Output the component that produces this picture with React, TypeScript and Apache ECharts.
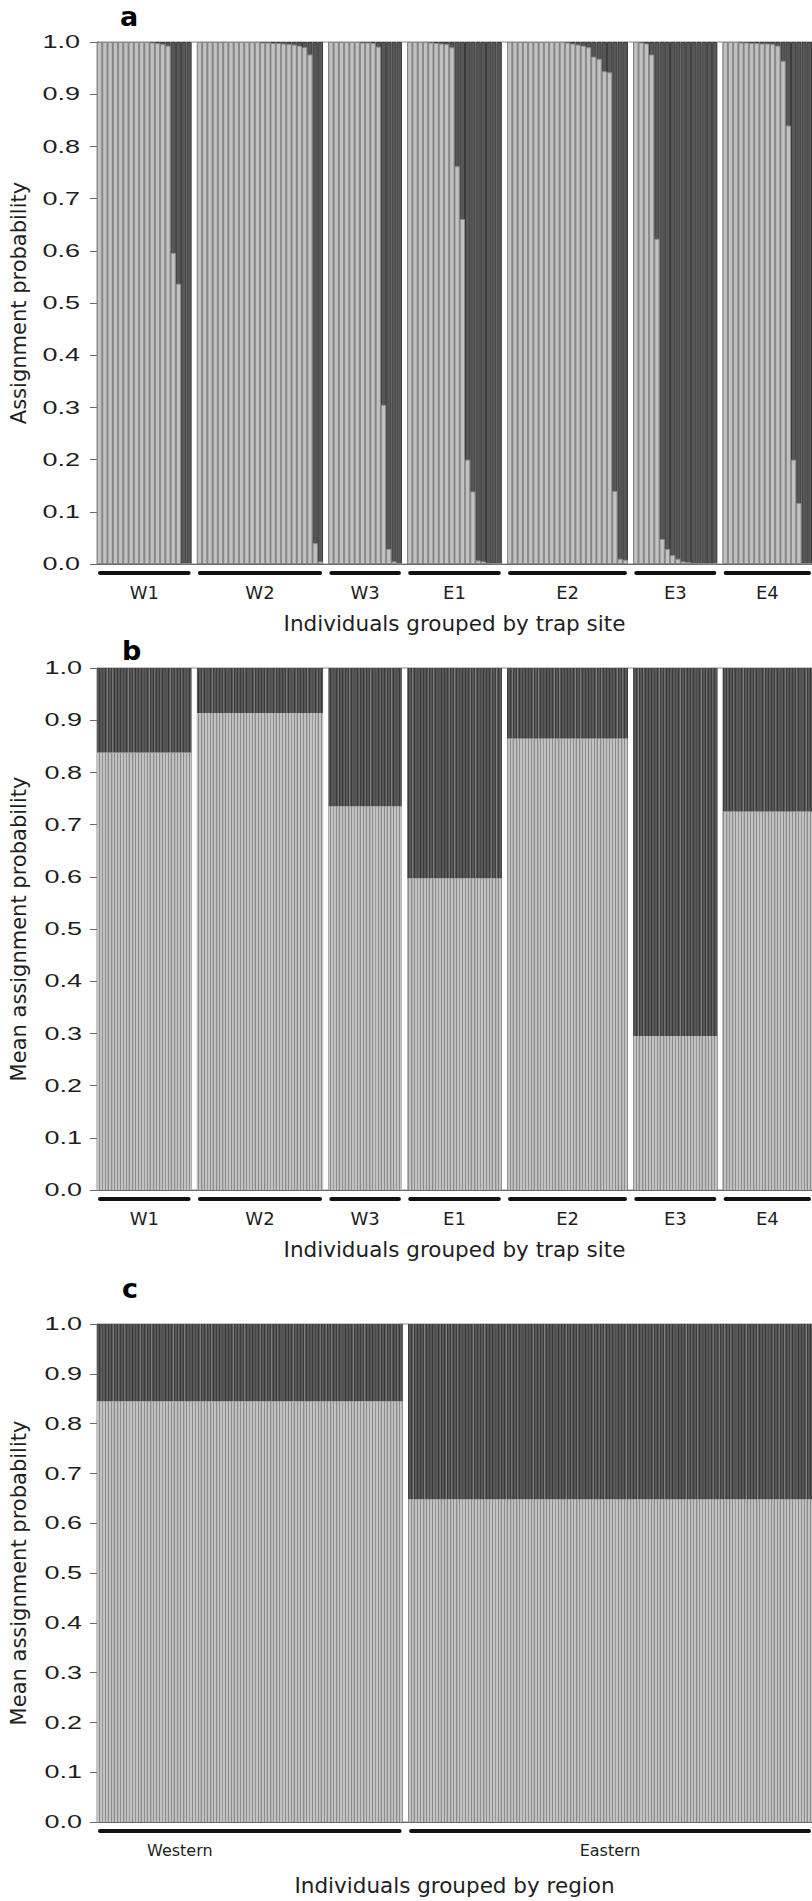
import React, { useEffect, useRef } from 'react';
import * as echarts from 'echarts';

// ---------- data ----------
const siteNames = ['W1', 'W2', 'W3', 'E1', 'E2', 'E3', 'E4'];

// assignment probability to the light (western) cluster, per individual
const siteW1 = [1, 1, 1, 1, 1, 1, 1, 1, 1, 1, 0.999, 0.998, 0.996, 0.993, 0.596, 0.537, 0.001, 0.001];
const siteW2 = [1, 1, 1, 1, 1, 1, 1, 1, 1, 1, 1, 1, 0.999, 0.999, 0.998, 0.998, 0.997, 0.996, 0.995, 0.993, 0.99, 0.976, 0.04, 0.005];
const siteW3 = [1, 1, 1, 1, 1, 1, 0.999, 0.999, 0.998, 0.991, 0.305, 0.029, 0.005, 0.001];
const siteE1 = [1, 1, 1, 1, 0.999, 0.998, 0.997, 0.996, 0.99, 0.762, 0.661, 0.2, 0.139, 0.007, 0.005, 0.002, 0.001, 0.001];
const siteE2 = [1, 1, 1, 1, 1, 1, 1, 1, 1, 1, 1, 0.999, 0.997, 0.995, 0.993, 0.99, 0.972, 0.968, 0.944, 0.942, 0.14, 0.01, 0.008];
const siteE3 = [1, 0.999, 0.997, 0.976, 0.623, 0.048, 0.029, 0.017, 0.01, 0.005, 0.004, 0.002, 0.001, 0.001, 0.001, 0.001];
const siteE4 = [1, 1, 1, 0.999, 0.999, 0.998, 0.998, 0.997, 0.997, 0.996, 0.993, 0.964, 0.84, 0.2, 0.117, 0.001, 0.001];
const siteIndividuals = [siteW1, siteW2, siteW3, siteE1, siteE2, siteE3, siteE4];

// mean assignment probability per trap site
const siteMeans = [0.838, 0.914, 0.735, 0.597, 0.865, 0.295, 0.725];

// regions
const regionNames = ['Western', 'Eastern'];
const regionSites = [[0, 1, 2], [3, 4, 5, 6]];
const regionMeans = [0.845, 0.648];

// y tick labels
const yTicks = [0, 0.1, 0.2, 0.3, 0.4, 0.5, 0.6, 0.7, 0.8, 0.9, 1.0];
const yTickLabels = ['0.0', '0.1', '0.2', '0.3', '0.4', '0.5', '0.6', '0.7', '0.8', '0.9', '1.0'];

// ---------- styles ----------
const FONT = 'DejaVu Sans';
const TICK_FONT = 'Liberation Sans';
const TEXT = '#1e1e1e';
const AXIS = '#6a6a6a';
const LIGHT = '#c2c2c2';
const LIGHT_EDGE = '#8c8c8c';
const DARK = '#575757';
const DARK_EDGE = '#3a3a3a';

type Panel = {
  cats: string[];
  light: (number | string)[];
  dark: (number | string)[];
  ranges: number[][];
  names: string[];
};

function buildPanel(groups: number[][], names: string[]): Panel {
  const cats: string[] = [];
  const light: (number | string)[] = [];
  const dark: (number | string)[] = [];
  const ranges: number[][] = [];
  groups.forEach((vals, g) => {
    if (g > 0) {
      cats.push('gap' + g);
      light.push('-');
      dark.push('-');
    }
    const start = cats.length;
    vals.forEach((v, i) => {
      cats.push(names[g] + '_' + (i + 1));
      light.push(v);
      dark.push(1);
    });
    ranges.push([start, 0, cats.length - 1]);
  });
  return { cats, light, dark, ranges, names };
}

const panelA = buildPanel(siteIndividuals, siteNames);
const panelB = buildPanel(
  siteIndividuals.map((ind, g) => ind.map(() => siteMeans[g])),
  siteNames
);
const panelC = buildPanel(
  regionSites.map((sites, r) => sites.flatMap((s) => siteIndividuals[s].map(() => regionMeans[r]))),
  regionNames
);

function barStyle(fill: string, edge: string, fine: boolean) {
  if (!fine) return { color: fill, borderColor: edge, borderWidth: 1 };
  return {
    color: fill,
    borderWidth: 0,
    decal: {
      symbol: 'rect',
      symbolSize: 1,
      dashArrayX: [1, 2],
      dashArrayY: [6, 0],
      rotation: 0,
      color: edge,
    },
  };
}

export default function App() {
  const ref = useRef<HTMLDivElement>(null);

  useEffect(() => {
    document.body.style.margin = '0';
    if (!ref.current) return;
    const chart = echarts.init(ref.current, undefined, { renderer: 'svg' });

    const panels = [panelA, panelB, panelC];
    const grids = [
      { left: 90, top: 42, width: 724, height: 522 },
      { left: 92, top: 668, width: 722, height: 522 },
      { left: 92, top: 1324, width: 722, height: 498 },
    ];
    const yNames = ['Assignment probability', 'Mean assignment probability', 'Mean assignment probability'];
    const xNames = ['Individuals grouped by trap site', 'Individuals grouped by trap site', 'Individuals grouped by region'];
    const groupFont = [18, 18, 16];
    const labelShift = [[], [], [-70, 0]];
    const xNameGap = [48, 48, 52];

    const series: any[] = [];
    panels.forEach((p, k) => {
      const fine = k > 0;
      series.push({
        type: 'bar',
        xAxisIndex: k,
        yAxisIndex: k,
        data: p.dark,
        barCategoryGap: '0%',
        barGap: '-100%',
        itemStyle: barStyle(DARK, DARK_EDGE, fine),
        silent: true,
      });
      series.push({
        type: 'bar',
        xAxisIndex: k,
        yAxisIndex: k,
        data: p.light,
        barCategoryGap: '0%',
        barGap: '-100%',
        itemStyle: barStyle(LIGHT, LIGHT_EDGE, fine),
        silent: true,
      });
      series.push({
        type: 'custom',
        xAxisIndex: k,
        yAxisIndex: k,
        clip: false,
        silent: true,
        z: 10,
        encode: { x: 0, y: 1 },
        data: p.ranges,
        renderItem: (params: any, api: any) => {
          const s = api.value(0);
          const e = api.value(2);
          const p1 = api.coord([s, 0]);
          const p2 = api.coord([e, 0]);
          const bw = api.size([1, 0])[0];
          const x1 = p1[0] - bw / 2 + 3;
          const x2 = p2[0] + bw / 2 - 3;
          const y = p1[1] + 9;
          const shift = (labelShift[k] as number[])[params.dataIndex] || 0;
          return {
            type: 'group',
            children: [
              {
                type: 'line',
                shape: { x1, y1: y, x2, y2: y },
                style: { stroke: '#111', lineWidth: 4, lineCap: 'round' },
              },
              {
                type: 'text',
                x: (x1 + x2) / 2 + shift,
                y: p1[1] + 28,
                style: {
                  text: p.names[params.dataIndex],
                  align: 'center',
                  verticalAlign: 'middle',
                  fontSize: groupFont[k],
                  fontFamily: FONT,
                  fill: TEXT,
                },
              },
            ],
          };
        },
      });
    });

    const panelLetters = [
      { text: 'a', x: 120, y: 16 },
      { text: 'b', x: 122, y: 650 },
      { text: 'c', x: 122, y: 1288 },
    ];
    const letterGraphics = panelLetters.map((l) => ({
      type: 'text',
      x: l.x,
      y: l.y,
      style: { text: l.text, fontSize: 27, fontWeight: 'bold', fontFamily: FONT, fill: '#000', verticalAlign: 'middle' },
    }));

    const option: any = {
      animation: false,
      backgroundColor: '#ffffff',
      grid: grids.map((g) => ({
        ...g,
        show: true,
        borderColor: '#8a8a8a',
        borderWidth: 1,
        backgroundColor: 'transparent',
        containLabel: false,
      })),
      xAxis: panels.map((p, k) => ({
        gridIndex: k,
        type: 'category',
        data: p.cats,
        axisLine: { show: true, onZero: false, lineStyle: { color: AXIS, width: 1 } },
        axisTick: { show: false },
        axisLabel: { show: false },
        splitLine: { show: false },
        name: xNames[k],
        nameLocation: 'middle',
        nameGap: xNameGap[k],
        nameTextStyle: { fontSize: 21.5, fontFamily: FONT, color: TEXT },
      })),
      yAxis: panels.map((p, k) => ({
        gridIndex: k,
        type: 'value',
        min: 0,
        max: 1,
        interval: 0.1,
        axisLine: { show: true, lineStyle: { color: AXIS, width: 1 } },
        axisTick: { show: true, length: 7, lineStyle: { color: AXIS } },
        axisLabel: { show: false },
        splitLine: { show: false },
        name: yNames[k],
        nameLocation: 'middle',
        nameGap: 68,
        nameTextStyle: { fontSize: 21, fontFamily: FONT, color: TEXT },
      })),
      graphic: letterGraphics,
      series,
    };

    chart.setOption(option);

    // y tick labels, placed through the axis scale (wide lettering as in the original)
    const tickGraphics: any[] = [];
    panels.forEach((p, k) => {
      yTicks.forEach((v, i) => {
        const py = chart.convertToPixel({ yAxisIndex: k }, v) as number;
        tickGraphics.push({
          type: 'text',
          x: grids[k].left - 10,
          y: py,
          scaleX: 1.5,
          style: {
            text: yTickLabels[i],
            align: 'right',
            verticalAlign: 'middle',
            fontSize: 18,
            fontFamily: TICK_FONT,
            fill: TEXT,
          },
        });
      });
    });
    chart.setOption({ graphic: [...letterGraphics, ...tickGraphics] });

    return () => chart.dispose();
  }, []);

  return <div ref={ref} style={{ width: 812, height: 1901 }} />;
}
